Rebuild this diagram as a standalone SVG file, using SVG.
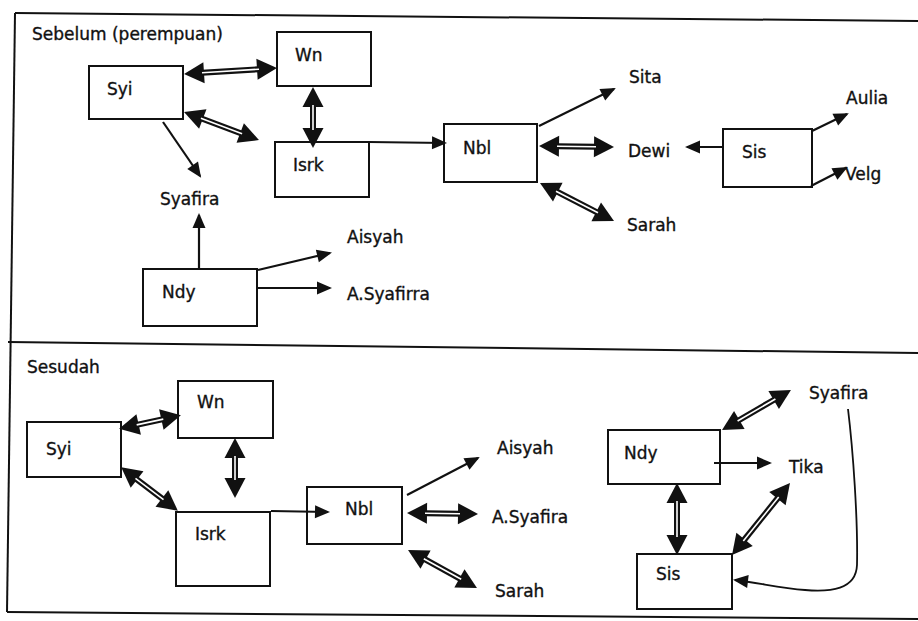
<svg xmlns="http://www.w3.org/2000/svg" width="918" height="621" viewBox="0 0 918 621">
<style>
  text { font-family: "DejaVu Sans", "Liberation Sans", sans-serif; font-size: 17px; fill: #111; stroke: #111; stroke-width: 0.35; }
  .box { fill: none; stroke: #111; stroke-width: 2; }
  .frame { fill: none; stroke: #111; stroke-width: 2; }
  .one { fill: none; stroke: #111; stroke-width: 2.2; marker-end: url(#sm); }
  .dbl { fill: none; stroke: #111; stroke-width: 6; marker-start: url(#bg); marker-end: url(#bg); }
  .dblw { fill: none; stroke: #fff; stroke-width: 1.6; }
  .curve { fill: none; stroke: #111; stroke-width: 1.8; marker-end: url(#sm); }
</style>
<defs>
  <marker id="sm" markerUnits="userSpaceOnUse" markerWidth="16" markerHeight="14" refX="13" refY="6.5" orient="auto" overflow="visible">
    <path d="M0,0 L15,6.5 L0,13 z" fill="#111"/>
  </marker>
  <marker id="bg" markerUnits="userSpaceOnUse" markerWidth="21" markerHeight="22" refX="2" refY="10.5" orient="auto-start-reverse" overflow="visible">
    <path d="M0,0 L20,10.5 L0,21 z" fill="#111"/>
  </marker>
</defs>
<rect width="918" height="621" fill="#fff"/>

<g id="frame">
  <line class="frame" x1="15" y1="13" x2="918" y2="21"/>
  <line class="frame" x1="15" y1="13" x2="7" y2="612"/>
  <line class="frame" x1="8" y1="342" x2="918" y2="353"/>
  <line class="frame" x1="7" y1="612" x2="918" y2="619"/>
  <text x="32" y="40">Sebelum (perempuan)</text>
  <text x="27" y="373">Sesudah</text>
</g>

<g id="connectors">
  <!-- Sebelum -->
  <line class="dbl" x1="202" y1="72.8" x2="259" y2="69.2"/><line class="dblw" x1="202" y1="72.8" x2="259" y2="69.2"/>
  <line class="dbl" x1="200.9" y1="118.3" x2="242.1" y2="133.7"/><line class="dblw" x1="200.9" y1="118.3" x2="242.1" y2="133.7"/>
  <line class="dbl" x1="313" y1="105" x2="313" y2="130"/><line class="dblw" x1="313" y1="105" x2="313" y2="130"/>
  <line class="dbl" x1="557" y1="146.2" x2="596" y2="146.8"/><line class="dblw" x1="557" y1="146.2" x2="596" y2="146.8"/>
  <line class="dbl" x1="556" y1="191.2" x2="598" y2="212.8"/><line class="dblw" x1="556" y1="191.2" x2="598" y2="212.8"/>
  <line class="one" x1="539" y1="126" x2="614" y2="89"/>
  <line class="one" x1="723" y1="147" x2="687" y2="147"/>
  <line class="one" x1="812" y1="131" x2="847" y2="114"/>
  <line class="one" x1="811" y1="186" x2="846" y2="168"/>
  <line class="one" x1="163" y1="122" x2="200" y2="176"/>
  <line class="one" x1="369" y1="142" x2="445" y2="143"/>
  <line class="one" x1="199" y1="268" x2="199" y2="215"/>
  <line class="one" x1="258" y1="270" x2="330" y2="253"/>
  <line class="one" x1="257" y1="288" x2="330" y2="288"/>
  <!-- Sesudah -->
  <line class="dbl" x1="136.7" y1="424.9" x2="163.3" y2="419.1"/><line class="dblw" x1="136.7" y1="424.9" x2="163.3" y2="419.1"/>
  <line class="dbl" x1="135.5" y1="478.3" x2="163.5" y2="499.7"/><line class="dblw" x1="135.5" y1="478.3" x2="163.5" y2="499.7"/>
  <line class="dbl" x1="235" y1="456" x2="235" y2="480"/><line class="dblw" x1="235" y1="456" x2="235" y2="480"/>
  <line class="dbl" x1="425" y1="513.3" x2="460" y2="513.7"/><line class="dblw" x1="425" y1="513.3" x2="460" y2="513.7"/>
  <line class="dbl" x1="423.8" y1="558.7" x2="461.2" y2="579.3"/><line class="dblw" x1="423.8" y1="558.7" x2="461.2" y2="579.3"/>
  <line class="dbl" x1="737.6" y1="421" x2="775.4" y2="399"/><line class="dblw" x1="737.6" y1="421" x2="775.4" y2="399"/>
  <line class="dbl" x1="677" y1="501" x2="677" y2="537"/><line class="dblw" x1="677" y1="501" x2="677" y2="537"/>
  <line class="dbl" x1="778.7" y1="497" x2="743.3" y2="541"/><line class="dblw" x1="778.7" y1="497" x2="743.3" y2="541"/>
  <line class="one" x1="271" y1="511" x2="328" y2="512"/>
  <line class="one" x1="407" y1="495" x2="478" y2="458"/>
  <line class="one" x1="714" y1="463" x2="770" y2="463"/>
  <path class="curve" d="M848,409 C853,450 858,520 857,565 C856,590 830,592 805,590 C780,588 760,583 735,580"/>
</g>

<g id="n-syi1"><rect class="box" x="89" y="66" width="94" height="53"/><text x="107" y="95">Syi</text></g>
<g id="n-wn1"><rect class="box" x="277" y="32" width="94" height="54"/><text x="295" y="61">Wn</text></g>
<g id="n-isrk1"><rect class="box" x="275" y="142" width="94" height="55"/><text x="293" y="171">Isrk</text></g>
<g id="n-nbl1"><rect class="box" x="444" y="124" width="93" height="58"/><text x="463" y="154">Nbl</text></g>
<g id="n-sis1"><rect class="box" x="723" y="129" width="89" height="58"/><text x="742" y="158">Sis</text></g>
<g id="n-ndy1"><rect class="box" x="143" y="269" width="114" height="57"/><text x="162" y="298">Ndy</text></g>
<g id="n-sita1"><text x="629" y="83">Sita</text></g>
<g id="n-dewi1"><text x="628" y="157">Dewi</text></g>
<g id="n-sarah1"><text x="627" y="231">Sarah</text></g>
<g id="n-aulia1"><text x="846" y="104">Aulia</text></g>
<g id="n-velg1"><text x="845" y="180">Velg</text></g>
<g id="n-syafira1"><text x="160" y="205">Syafira</text></g>
<g id="n-aisyah1"><text x="347" y="243">Aisyah</text></g>
<g id="n-asyafirra1"><text x="347" y="300">A.Syafirra</text></g>

<g id="n-wn2"><rect class="box" x="178" y="381" width="95" height="57"/><text x="197" y="408">Wn</text></g>
<g id="n-syi2"><rect class="box" x="27" y="422" width="94" height="55"/><text x="46" y="455">Syi</text></g>
<g id="n-isrk2"><rect class="box" x="176" y="512" width="94" height="74"/><text x="195" y="540">Isrk</text></g>
<g id="n-nbl2"><rect class="box" x="307" y="487" width="95" height="57"/><text x="345" y="515">Nbl</text></g>
<g id="n-ndy2"><rect class="box" x="608" y="430" width="112" height="54"/><text x="624" y="459">Ndy</text></g>
<g id="n-sis2"><rect class="box" x="637" y="554" width="95" height="55"/><text x="656" y="580">Sis</text></g>
<g id="n-aisyah2"><text x="497" y="454">Aisyah</text></g>
<g id="n-asyafira2"><text x="492" y="523">A.Syafira</text></g>
<g id="n-sarah2"><text x="495" y="597">Sarah</text></g>
<g id="n-syafira2"><text x="809" y="399">Syafira</text></g>
<g id="n-tika2"><text x="789" y="473">Tika</text></g>
</svg>
